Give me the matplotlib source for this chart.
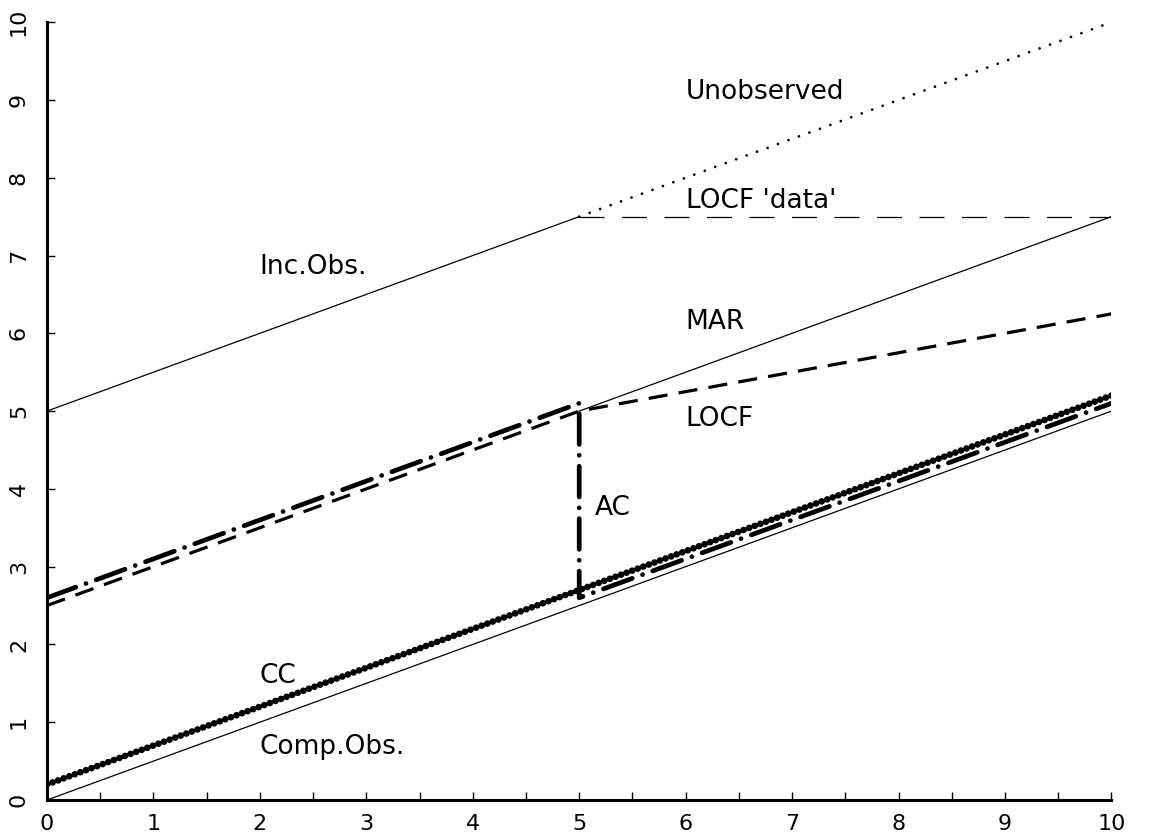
import matplotlib
matplotlib.use("Agg")
from matplotlib import pyplot as plt
from matplotlib.ticker import MultipleLocator

# line end points (x, y)
comp_x = [0, 10]
comp_y = [0, 5]
inc_x = [0, 5]
inc_y = [5, 7.5]
mar_x = [5, 10]
mar_y = [5, 7.5]
unobs_x = [5, 10]
unobs_y = [7.5, 10]
locf_data_x = [5, 10]
locf_data_y = [7.5, 7.5]
locf_x = [0, 5, 10]
locf_y = [2.5, 5, 6.25]
cc_x = [0, 10]
cc_y = [0.2, 5.2]
ac_x = [0, 5, 5, 10]
ac_y = [2.6, 5.1, 2.6, 5.1]

labels = ["Unobserved", "LOCF 'data'", "Inc.Obs.", "MAR", "LOCF", "AC", "CC", "Comp.Obs."]
label_x = [6.0, 6.0, 2.0, 6.0, 6.0, 5.15, 2.0, 2.0]
label_y = [9.1, 7.7, 6.85, 6.15, 4.9, 3.75, 1.6, 0.68]

plt.rcParams['font.family'] = ['DejaVu Sans']

fig = plt.figure(figsize=(11.59, 8.4), dpi=100)
ax = fig.add_axes([0.0405, 0.0476, 0.9185, 0.926])

ax.plot(comp_x, comp_y, color="black", lw=0.9)
ax.plot(inc_x, inc_y, color="black", lw=0.9)
ax.plot(mar_x, mar_y, color="black", lw=0.9)
ax.plot(unobs_x, unobs_y, color="black", lw=2.0, linestyle=(0, (0.01, 4)),
        dash_capstyle="round")
ax.plot(locf_data_x, locf_data_y, color="black", lw=0.9, linestyle=(0, (20, 14)))
ax.plot(locf_x, locf_y, color="black", lw=2.3, linestyle=(0, (6, 3.5)))
ax.plot(cc_x, cc_y, color="black", lw=1.2)
ax.plot(cc_x, cc_y, color="black", lw=4.8, linestyle=(0, (0.01, 0.88)),
        dash_capstyle="round")
ax.plot(ac_x, ac_y, color="black", lw=3.4, linestyle=(0, (6.5, 2.3, 0.01, 2.3)),
        dash_capstyle="round")

for t, x, y in zip(labels, label_x, label_y):
    ax.text(x, y, t, fontsize=19, va="center", ha="left")

ax.set_xlim(0, 10)
ax.set_ylim(0, 10)
ax.spines["top"].set_visible(False)
ax.spines["right"].set_visible(False)
ax.spines["left"].set_linewidth(2.2)
ax.spines["bottom"].set_linewidth(2.2)
ax.xaxis.set_major_locator(MultipleLocator(1))
ax.xaxis.set_minor_locator(MultipleLocator(0.5))
ax.yaxis.set_major_locator(MultipleLocator(1))
ax.tick_params(direction="in", length=6, width=1, labelsize=16)
ax.tick_params(axis="x", pad=10)
ax.tick_params(axis="y", pad=13)
ax.tick_params(which="minor", direction="in", length=6, width=1)
for lab in ax.get_yticklabels():
    lab.set_rotation(90)
    lab.set_va("center")

plt.savefig("out.png", dpi=100)
